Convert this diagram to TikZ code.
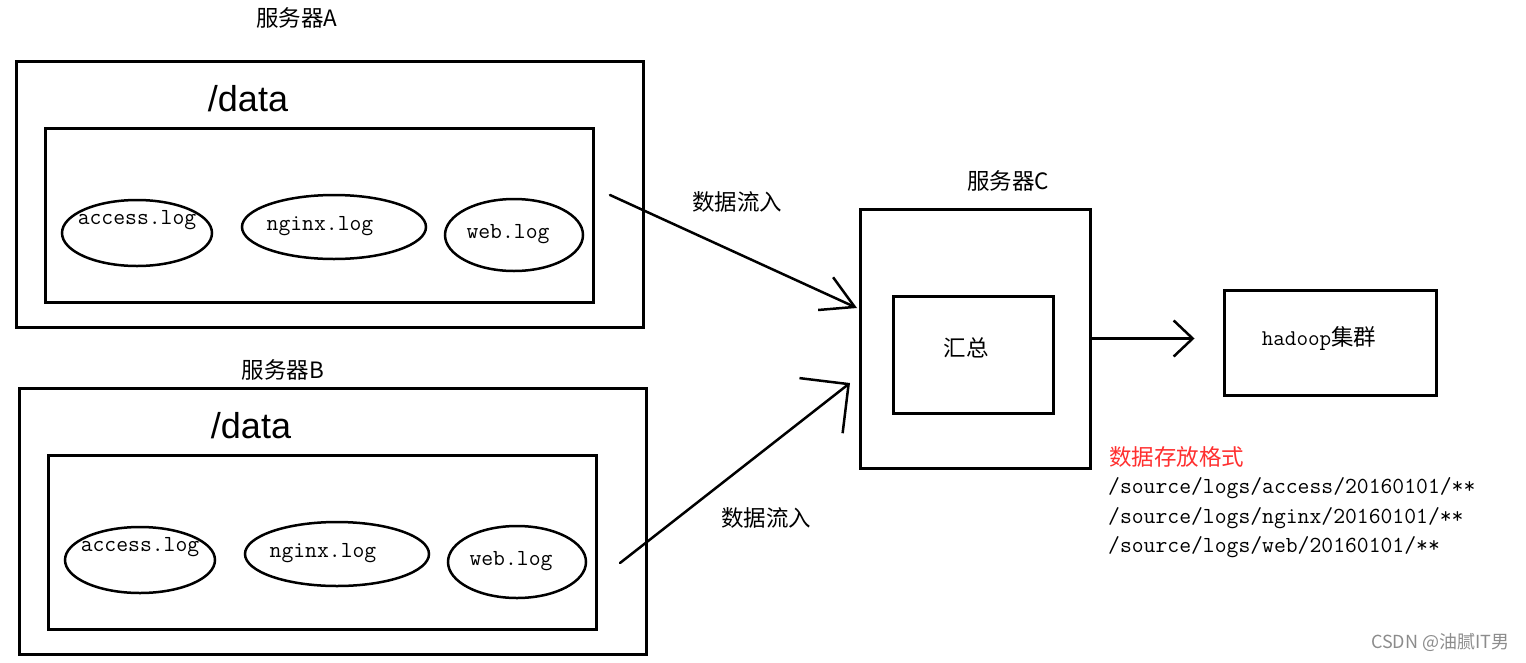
\documentclass[tikz,border=0pt]{standalone}
\usepackage{fontspec}
\setmainfont{Liberation Sans}
\newfontfamily\zh{Noto Sans CJK SC}
\usetikzlibrary{shapes.geometric,arrows.meta}
\definecolor{fmtred}{RGB}{255,48,48}
\tikzset{
  box/.style={draw, line width=3pt, inner sep=0pt},
  logfile/.style={draw, ellipse, line width=2.5pt, inner sep=0pt},
  logname/.style={font=\fontsize{23}{26}\selectfont\ttfamily},
  zhtext/.style={font=\fontsize{22.5}{26}\selectfont\zh},
  datatext/.style={font=\fontsize{36}{40}\selectfont},
  flow/.style={line width=2.5pt, line cap=round, line join=round},
}
\newcommand\LogServer[3]{
  \def\srv{#1} \def\X{#2} \def\Y{#3}
  \node[box, minimum width=627pt, minimum height=266pt] (\srv-out) at (\X+329.5,\Y+194) {};
  \node[box, minimum width=548pt, minimum height=174pt] (\srv-dir) at (\X+319,\Y+215) {};
  \node[datatext] (\srv-data) at (\X+248,\Y+99) {/data};
  \foreach \f/\cx/\cy/\rx/\ry/\dx/\dy in
    {access/137/233/75/33/0/13, nginx/334/227/92/32/-14/1, web/514/235/69/36/-6/1}
  {
    \node[logfile, minimum width=2*\rx, minimum height=2*\ry,
      label={[logname, xshift=\dx pt, yshift=\dy pt]center:\f.log}]
      (\srv-\f) at (\X+\cx,\Y+\cy) {};
  }
}

\begin{document}
\begin{tikzpicture}[x=1pt, y=-1pt]
\useasboundingbox (0,0) rectangle (1526,662);
\LogServer{A}{0}{0}
\LogServer{B}{3}{327}
\node[zhtext] (A-name) at (297,18) {服务器A};
\node[zhtext] (B-name) at (283,370) {服务器B};

\node[box, minimum width=230pt, minimum height=259pt] (C-out) at (975,338.5) {};
\node[box, minimum width=160pt, minimum height=117pt,
  label={[zhtext, xshift=-7pt, yshift=7pt]center:汇总}] (C-sum) at (973,354.5) {};
\node[zhtext] (C-name) at (1008,181) {服务器C};
\node[box, minimum width=212pt, minimum height=105pt,
  label={[zhtext, xshift=-11pt, yshift=4pt]center:{\ttfamily hadoop}集群}] (hadoop) at (1330,343) {};

\coordinate (A-src) at (610,195);
\coordinate (B-src) at (620,563);
\coordinate (C-inA) at (857,308);
\coordinate (C-inB) at (850,383);
\draw[flow, -{Straight Barb[length=32pt, width=36pt]}] (A-src) -- (C-inA);
\draw[flow, -{Straight Barb[length=35pt, width=70pt]}] (B-src) -- (C-inB);
\draw[flow, -{Straight Barb[length=19pt, width=36pt]}, shorten >=28pt]
  (C-out.east) -- (C-out.east -| hadoop.west);
\node[zhtext] (A-flow) at (737,202) {数据流入};
\node[zhtext] (B-flow) at (766,518) {数据流入};

% storage layout on hdfs
\node[zhtext, text=fmtred, anchor=base west, inner sep=0pt] (fmt-head) at (1109,465) {数据存放格式};
\foreach \p [count=\i] in {access,nginx,web}
  \node[logname, anchor=base west, inner sep=0pt] (fmt-\p) at (1108,464+29.5*\i) {/source/logs/\p/20160101/**};

\node[font=\fontsize{18}{20}\selectfont\zh, text=black!45, anchor=east] (mark) at (1513,643) {CSDN @油腻IT男};
\end{tikzpicture}
\end{document}
